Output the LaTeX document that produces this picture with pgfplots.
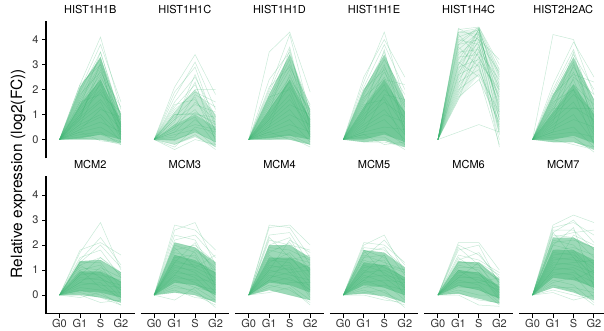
\documentclass[border=0pt]{standalone}
\usepackage{pgfplots}
\usepackage{pgfplotstable}
\pgfplotsset{compat=1.18}
\usepackage{fontspec}
\setmainfont{TeX Gyre Heros}
\definecolor{lg}{RGB}{60,179,113}
\definecolor{tickgray}{RGB}{51,51,51}

% rows: one line each, columns: G1, S, G2 (G0 = 0 for all)
\pgfplotstableread{
a b c
2.2 4.1 1.2
2.0 3.8 1.5
1.9 3.5 0.9
1.7 3.3 0.4
1.6 3.0 1.0
1.5 2.9 0.2
1.4 2.6 0.7
1.3 2.4 0.5
1.2 2.2 0.1
1.1 2.0 0.8
1.0 1.9 0.3
0.9 1.6 0.6
0.8 1.5 0.0
0.7 1.3 0.4
0.6 1.0 0.2
0.5 0.9 -0.1
0.4 0.7 0.3
0.3 0.5 0.0
0.2 0.3 -0.2
0.1 0.2 -0.1
1.8 2.7 1.3
2.1 3.2 0.6
1.3 3.5 0.8
0.9 2.8 0.5
0.6 2.3 0.2
0.4 1.2 0.9
1.5 1.8 1.1
2.2 3.0 0.0
0.8 3.1 0.3
1.0 2.5 1.0
0.05 0.0 -0.2
0.3 -0.05 -0.15
}\tA
\pgfplotstableread{
a b c
2.1 3.4 1.8
1.9 2.9 0.6
1.7 3.1 1.2
1.5 2.5 0.9
1.3 2.2 0.3
1.2 1.9 1.5
1.0 1.0 0.9
1.0 1.05 0.7
0.9 1.7 0.0
0.8 1.4 1.1
0.7 2.6 0.5
0.6 1.2 0.2
0.5 0.9 -0.2
0.4 1.5 0.8
0.3 0.6 0.4
0.2 0.4 -0.3
0.1 0.8 0.1
0.0 0.3 -0.1
-0.2 0.2 -0.4
-0.4 0.0 -0.2
-0.3 0.5 0.3
1.1 2.0 2.0
0.5 1.8 1.3
1.4 1.6 0.4
0.8 2.3 -0.1
0.3 1.1 0.6
}\tB
\pgfplotstableread{
a b c
3.5 4.3 1.9
2.0 4.2 1.0
1.9 3.7 0.5
1.8 3.4 1.3
1.6 3.2 0.2
1.5 3.0 0.9
1.4 2.8 0.6
1.3 2.5 1.1
1.2 2.3 0.3
1.0 2.1 0.8
0.9 1.8 0.1
0.8 1.6 0.5
0.7 1.4 1.0
0.6 1.2 0.2
0.5 1.0 0.6
0.4 0.8 -0.1
0.3 0.6 0.3
0.2 0.4 0.0
0.1 0.2 -0.2
0.0 0.1 -0.3
2.1 2.9 1.4
1.1 3.6 0.4
0.5 2.6 0.7
1.7 2.0 0.1
0.3 0.0 -0.2
0.8 2.4 1.2
2.4 3.5 0.8
}\tC
\pgfplotstableread{
a b c
2.5 4.0 2.5
2.3 4.3 1.5
2.1 3.8 2.0
1.9 3.5 1.0
1.8 3.2 1.8
1.6 3.0 0.6
1.5 2.7 1.3
1.3 2.5 0.8
1.2 2.2 0.3
1.0 2.0 1.1
0.9 1.7 0.5
0.8 1.5 0.9
0.6 1.2 0.2
0.5 1.0 0.7
0.4 0.8 0.0
0.3 0.5 0.4
0.2 0.3 -0.2
0.1 0.1 -0.4
-0.1 -0.1 -0.3
0.2 -0.2 -0.1
1.7 2.4 2.2
0.7 2.9 1.4
1.1 3.6 0.2
0.3 1.8 1.6
1.4 1.6 -0.2
2.0 2.8 0.4
}\tD
\pgfplotstableread{
a b c
4.4 4.5 2.8
4.3 4.2 1.5
4.1 4.4 2.2
4.0 3.8 0.8
3.9 4.5 3.0
3.8 4.0 1.2
3.6 4.3 2.5
3.5 3.6 0.3
3.4 4.1 1.9
3.3 3.4 -0.3
3.2 4.4 1.0
3.0 3.9 2.7
2.9 3.2 0.6
2.8 4.2 1.6
2.7 3.7 2.1
2.6 3.0 0.0
2.5 4.0 1.3
2.4 3.5 2.4
2.3 2.8 0.9
2.2 4.3 0.4
2.1 3.3 1.7
2.0 2.6 1.1
1.9 3.8 0.2
1.8 3.1 2.0
1.7 2.4 0.7
1.6 3.6 1.4
4.2 3.3 1.8
4.45 4.0 3.2
3.7 2.9 0.5
3.1 2.5 -0.2
0.3 0.6 0.3
2.6 4.45 2.6
3.0 4.4 1.1
3.8 4.45 0.8
4.3 4.45 2.0
}\tE
\pgfplotstableread{
a b c
4.2 4.0 1.8
2.2 3.9 2.5
2.0 3.6 1.2
1.9 3.4 2.0
1.7 3.1 0.6
1.6 2.9 1.6
1.4 2.7 0.9
1.3 2.4 0.3
1.2 2.2 1.4
1.0 2.0 0.7
0.9 1.8 1.1
0.8 1.5 0.2
0.6 1.3 0.8
0.5 1.0 -0.1
0.4 0.8 0.5
0.3 0.5 -0.3
0.2 0.3 0.1
0.1 0.1 -0.5
-0.1 -0.1 -0.3
1.25 1.25 1.25
0.7 3.0 1.0
1.5 2.0 -0.2
0.3 2.5 1.8
1.1 3.5 0.4
1.8 2.6 2.3
0.0 -0.2 -0.4
}\tF
\pgfplotstableread{
a b c
1.8 2.1 1.6
1.7 2.9 1.0
1.5 1.8 0.7
1.4 2.3 1.2
1.35 1.4 0.9
1.3 1.3 0.3
1.2 1.5 0.8
1.1 1.0 0.5
1.0 1.2 0.0
0.9 0.8 0.6
0.8 0.9 0.2
0.7 0.6 0.4
0.6 0.7 -0.1
0.5 0.4 0.3
0.4 0.5 -0.2
0.3 0.2 0.1
0.2 0.0 -0.3
0.1 -0.1 -0.4
0.0 -0.3 -0.2
-0.1 0.1 -0.4
1.3 2.0 1.1
0.8 1.5 0.9
1.0 0.3 -0.1
0.5 1.1 0.7
1.2 0.7 0.2
}\tG
\pgfplotstableread{
a b c
2.8 2.6 1.8
2.6 2.9 1.2
2.4 2.2 0.8
2.2 2.4 1.5
2.1 1.9 1.0
2.0 1.7 0.4
1.8 2.0 1.3
1.7 1.5 0.6
1.6 1.3 1.0
1.5 1.6 0.2
1.4 1.1 0.7
1.3 1.2 0.9
1.2 0.9 0.1
1.1 1.0 0.5
1.0 0.7 -0.1
0.9 0.8 0.4
0.8 0.5 0.0
0.7 0.6 0.6
0.6 0.3 -0.2
0.5 0.4 0.2
0.4 0.1 -0.3
0.3 0.2 -0.5
0.2 -0.1 -0.2
0.1 0.0 -0.4
-0.2 0.3 0.1
1.9 1.1 1.6
0.8 1.8 1.1
1.3 2.1 0.3
}\tH
\pgfplotstableread{
a b c
2.8 2.7 1.5
2.7 2.8 2.0
2.4 2.5 1.2
2.2 2.0 1.8
2.0 2.3 0.8
1.9 1.8 1.4
1.8 1.6 0.5
1.7 2.1 1.0
1.5 1.4 1.6
1.4 1.3 0.3
1.3 1.7 0.9
1.2 1.0 1.2
1.1 1.2 0.0
1.0 0.8 0.6
0.9 1.1 -0.1
0.8 0.6 0.4
0.7 0.9 1.0
0.6 0.4 -0.2
0.5 0.7 0.2
0.4 0.2 -0.3
0.3 0.5 0.5
0.2 0.0 -0.2
0.1 0.3 -0.4
2.3 1.5 0.7
1.0 2.2 1.7
1.6 0.9 0.2
0.6 1.5 1.3
}\tI
\pgfplotstableread{
a b c
2.1 2.0 1.3
2.0 2.4 0.9
1.9 1.8 1.1
1.8 1.5 0.5
1.7 1.9 0.8
1.6 1.3 1.0
1.5 1.6 0.3
1.4 1.1 0.7
1.3 1.4 -0.1
1.2 0.9 0.4
1.1 1.2 0.9
1.0 0.7 0.1
0.9 1.0 0.6
0.8 0.5 -0.2
0.7 0.8 0.3
0.6 0.3 0.0
0.5 0.6 0.5
0.4 0.1 -0.3
0.3 0.4 0.2
0.2 -0.1 -0.4
0.1 0.2 -0.5
0.0 -0.2 -0.3
1.5 2.2 1.2
0.9 1.6 0.2
1.8 0.8 0.6
0.6 1.2 1.0
}\tJ
\pgfplotstableread{
a b c
2.1 2.1 1.0
2.0 1.6 0.7
1.8 2.0 0.4
1.6 1.4 0.9
1.4 1.7 0.5
1.35 1.2 0.2
1.3 1.3 0.8
1.2 1.0 0.0
1.1 1.1 0.6
1.0 0.8 0.3
0.9 0.9 -0.2
0.8 0.6 0.4
0.7 0.7 0.1
0.6 0.4 -0.3
0.5 0.5 0.2
0.4 0.2 -0.1
0.3 0.3 -0.4
0.2 0.0 0.0
0.1 -0.2 -0.3
0.0 -0.4 -0.45
1.5 0.9 -0.1
0.7 1.3 0.5
1.9 1.2 0.1
1.0 0.5 0.7
}\tK
\pgfplotstableread{
a b c
2.8 3.2 2.9
2.7 2.9 2.4
2.6 2.6 1.8
2.5 3.0 2.1
2.4 2.3 1.5
2.3 2.5 2.6
2.2 2.0 1.2
2.1 2.2 1.9
2.0 1.8 0.9
1.8 1.9 1.6
1.7 1.6 1.1
1.6 1.7 0.6
1.5 1.4 1.3
1.4 1.5 0.4
1.3 1.2 0.9
1.2 1.3 1.4
1.1 1.0 0.2
1.0 1.1 0.7
0.9 0.8 -0.1
0.8 0.9 0.5
0.7 0.6 1.0
0.6 0.4 -0.3
0.5 0.7 0.3
0.4 0.2 -0.4
0.3 0.3 0.1
0.2 0.0 -0.2
0.1 -0.2 0.0
2.0 2.7 0.3
1.0 2.4 2.0
2.5 1.5 0.8
}\tL

\newcommand{\drawlines}[1]{%
  \pgfplotstablegetrowsof{#1}%
  \pgfmathtruncatemacro{\nr}{\pgfplotsretval-1}%
  \pgfplotsforeachungrouped \rr in {0,...,\nr}{%
    \pgfplotstablegetelem{\rr}{a}\of{#1}\let\va\pgfplotsretval
    \pgfplotstablegetelem{\rr}{b}\of{#1}\let\vb\pgfplotsretval
    \pgfplotstablegetelem{\rr}{c}\of{#1}\let\vc\pgfplotsretval
    \edef\temp{\noexpand\addplot[gline] coordinates {(0,0)(1,\va)(2,\vb)(3,\vc)};}%
    \temp
  }%
}

\pgfplotsset{
  base/.style={scale only axis, width=88.5pt, height=137.5pt,
    anchor=south west,
    xmin=-0.66, xmax=3.66, ymin=-0.75, ymax=4.75,
    axis line style={black, line width=1.1pt},
    tick style={black, line width=1pt}, major tick length=4pt, tick align=outside,
    tick label style={font=\fontsize{11}{12}\selectfont, text=tickgray},
    xticklabel style={inner sep=1pt},
    title style={font=\fontsize{11}{12}\selectfont, at={(0.5,1)}, anchor=base, yshift=1.6pt},
  },
  leftcol/.style={axis y line*=left, ytick={0,1,2,3,4}, yticklabels={0,1,2,3,4}},
  othercol/.style={axis y line=none, ytick=\empty},
  botrow/.style={axis x line*=bottom, xtick={0,1,2,3}, xticklabels={G0,G1,S,G2}},
  toprow/.style={axis x line=none, xtick=\empty},
  fix/.style={x axis line style={-}, y axis line style={-}},
  gline/.style={draw=lg, opacity=0.28, line width=0.5pt, no markers, forget plot},
  band/.style={fill=lg, fill opacity=#1, draw=none, no markers, forget plot},
}

\begin{document}
\begin{tikzpicture}
\useasboundingbox (0,0) rectangle (604pt,330pt);
\node[rotate=90, font=\fontsize{15.5}{18}\selectfont] at (18pt,156.5pt) {Relative expression (log2(FC))};

% ---------- top row ----------
\begin{axis}[base, leftcol, toprow, fix, at={(46pt,171.7pt)}, title={HIST1H1B}]
\addplot[band=0.5] coordinates {(0,0)(1,2.1)(2,3.3)(3,1.0)(3,-0.15)(2,0.0)(1,0.0)(0,0)};
\addplot[band=0.45] coordinates {(0,0)(1,1.4)(2,2.4)(3,0.7)(3,0.0)(2,0.2)(1,0.05)(0,0)};
\drawlines{\tA}
\end{axis}
\begin{axis}[base, othercol, toprow, fix, at={(140.6pt,171.7pt)}, title={HIST1H1C}]
\addplot[band=0.3] coordinates {(0,0)(1,1.1)(2,2.0)(3,1.0)(3,-0.3)(2,0.1)(1,-0.2)(0,0)};
\addplot[band=0.35] coordinates {(0,0)(1,0.6)(2,1.0)(3,0.5)(3,-0.1)(2,0.3)(1,-0.05)(0,0)};
\drawlines{\tB}
\end{axis}
\begin{axis}[base, othercol, toprow, fix, at={(235.2pt,171.7pt)}, title={HIST1H1D}]
\addplot[band=0.5] coordinates {(0,0)(1,1.8)(2,3.4)(3,1.2)(3,-0.2)(2,0.0)(1,0.0)(0,0)};
\addplot[band=0.45] coordinates {(0,0)(1,1.2)(2,2.4)(3,0.8)(3,0.0)(2,0.15)(1,0.05)(0,0)};
\drawlines{\tC}
\end{axis}
\begin{axis}[base, othercol, toprow, fix, at={(329.8pt,171.7pt)}, title={HIST1H1E}]
\addplot[band=0.5] coordinates {(0,0)(1,2.0)(2,3.4)(3,1.6)(3,-0.3)(2,-0.05)(1,-0.1)(0,0)};
\addplot[band=0.45] coordinates {(0,0)(1,1.3)(2,2.4)(3,1.1)(3,-0.1)(2,0.2)(1,0.0)(0,0)};
\drawlines{\tD}
\end{axis}
\begin{axis}[base, othercol, toprow, fix, at={(424.4pt,171.7pt)}, title={HIST1H4C}]
\addplot[band=0.12] coordinates {(0,0)(1,4.3)(2,4.4)(3,2.8)(3,0.2)(2,2.6)(1,1.6)(0,0)};
\drawlines{\tE}
\end{axis}
\begin{axis}[base, othercol, toprow, fix, at={(519pt,171.7pt)}, title={HIST2H2AC}]
\addplot[band=0.5] coordinates {(0,0)(1,1.8)(2,3.3)(3,1.6)(3,-0.4)(2,-0.1)(1,-0.1)(0,0)};
\addplot[band=0.45] coordinates {(0,0)(1,1.1)(2,2.2)(3,1.0)(3,-0.15)(2,0.15)(1,0.0)(0,0)};
\drawlines{\tF}
\end{axis}

% ---------- bottom row ----------
\begin{axis}[base, leftcol, botrow, fix, at={(46pt,16.2pt)}, title={MCM2}]
\addplot[band=0.5] coordinates {(0,0)(1,1.35)(2,1.4)(3,0.9)(3,-0.3)(2,-0.1)(1,0.0)(0,0)};
\addplot[band=0.45] coordinates {(0,0)(1,0.95)(2,0.95)(3,0.55)(3,-0.1)(2,0.1)(1,0.15)(0,0)};
\drawlines{\tG}
\end{axis}
\begin{axis}[base, othercol, botrow, fix, at={(140.6pt,16.2pt)}, title={MCM3}]
\addplot[band=0.5] coordinates {(0,0)(1,2.1)(2,1.9)(3,1.3)(3,-0.3)(2,0.0)(1,0.1)(0,0)};
\addplot[band=0.45] coordinates {(0,0)(1,1.6)(2,1.4)(3,0.9)(3,0.0)(2,0.4)(1,0.5)(0,0)};
\drawlines{\tH}
\end{axis}
\begin{axis}[base, othercol, botrow, fix, at={(235.2pt,16.2pt)}, title={MCM4}]
\addplot[band=0.5] coordinates {(0,0)(1,2.0)(2,2.0)(3,1.5)(3,-0.2)(2,0.0)(1,0.2)(0,0)};
\addplot[band=0.45] coordinates {(0,0)(1,1.5)(2,1.5)(3,1.1)(3,0.1)(2,0.4)(1,0.5)(0,0)};
\drawlines{\tI}
\end{axis}
\begin{axis}[base, othercol, botrow, fix, at={(329.8pt,16.2pt)}, title={MCM5}]
\addplot[band=0.5] coordinates {(0,0)(1,1.8)(2,1.7)(3,1.1)(3,-0.3)(2,-0.05)(1,0.05)(0,0)};
\addplot[band=0.45] coordinates {(0,0)(1,1.3)(2,1.2)(3,0.7)(3,0.0)(2,0.3)(1,0.4)(0,0)};
\drawlines{\tJ}
\end{axis}
\begin{axis}[base, othercol, botrow, fix, at={(424.4pt,16.2pt)}, title={MCM6}]
\addplot[band=0.5] coordinates {(0,0)(1,1.35)(2,1.3)(3,0.65)(3,-0.35)(2,-0.15)(1,0.05)(0,0)};
\addplot[band=0.45] coordinates {(0,0)(1,1.0)(2,0.9)(3,0.35)(3,-0.15)(2,0.2)(1,0.35)(0,0)};
\drawlines{\tK}
\end{axis}
\begin{axis}[base, othercol, botrow, fix, at={(519pt,16.2pt)}, title={MCM7}]
\addplot[band=0.5] coordinates {(0,0)(1,2.3)(2,2.3)(3,1.9)(3,-0.2)(2,0.1)(1,0.3)(0,0)};
\addplot[band=0.45] coordinates {(0,0)(1,1.8)(2,1.8)(3,1.4)(3,0.3)(2,0.6)(1,0.7)(0,0)};
\drawlines{\tL}
\end{axis}
\end{tikzpicture}
\end{document}
